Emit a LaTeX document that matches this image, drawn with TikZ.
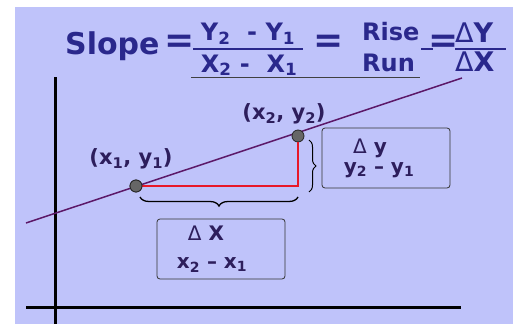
\documentclass[tikz,border=0pt]{standalone}
\usepackage{fontspec}
\setmainfont{DejaVu Sans}
\usepackage{xcolor}
\usetikzlibrary{decorations.pathreplacing}
\definecolor{slopebg}{RGB}{191,195,250}
\definecolor{slopeink}{RGB}{42,40,140}
\definecolor{labelink}{RGB}{45,30,92}
\definecolor{lineink}{RGB}{92,24,104}
\definecolor{runink}{RGB}{232,24,40}
\newcommand{\lowidx}[1]{\textsubscript{#1}}
\tikzset{
  titletext/.style={text=slopeink,font=\bfseries\fontsize{24}{28}\selectfont,inner sep=0pt},
  bigtitle/.style={titletext,font=\bfseries\fontsize{30}{34}\selectfont},
  eqsign/.style={titletext,anchor=center,font=\bfseries\fontsize{36}{40}\selectfont},
  pointlabel/.style={text=labelink,font=\bfseries\fontsize{21}{24}\selectfont,inner sep=0pt},
  boxtext/.style={text=labelink,font=\bfseries\fontsize{20}{24}\selectfont,inner sep=0pt},
  deltabox/.style={draw=black!80,line width=0.8pt,rounded corners=3pt,minimum width=128pt,minimum height=60pt},
  dot/.style={circle,draw=black!85,fill=black!60,line width=0.8pt,inner sep=0pt,minimum size=12pt},
  axis/.style={line width=3pt,black}
}
\begin{document}
\begin{tikzpicture}[x=1pt,y=-1pt]
  \useasboundingbox (0,0) rectangle (520,324);
  \fill[slopebg] (15,7) rectangle (513,324);

  \node[bigtitle,anchor=base west] (slope) at (65,54) {Slope};
  \node[eqsign] (eqa) at (180,44) {=};
  \node[titletext,anchor=base] (ynum) at (248,41) {Y\lowidx{2}~ - Y\lowidx{1}};
  \node[titletext,anchor=base] (xden) at (249,72) {X\lowidx{2} - ~X\lowidx{1}};
  \draw[slopeink,line width=1.5pt] (193,49) -- (303,49);
  \node[eqsign] (eqb) at (329,44) {=};
  \node[titletext,anchor=base west] (rise) at (362,40) {Rise};
  \node[titletext,anchor=base west] (run) at (362,71) {Run};
  \draw[slopeink,line width=1.5pt] (421,49) -- (433,49);
  \node[eqsign] (eqc) at (444,44) {=};
  \node[titletext,anchor=base west,font=\bfseries\fontsize{27}{30}\selectfont] (dyt) at (455,42) {{\mdseries Δ}Y};
  \node[titletext,anchor=base west,font=\bfseries\fontsize{27}{30}\selectfont] (dxt) at (455,71) {{\mdseries Δ}X};
  \draw[slopeink,line width=1.5pt] (455,49) -- (506,49);
  \draw[black!75,line width=0.8pt] (191,77) -- (420,77);

  \coordinate (ytop) at (55,77);
  \coordinate (ybot) at (55,324);
  \coordinate (xleft) at (26,307);
  \coordinate (xright) at (461,307);
  \draw[axis] (ytop) -- (ybot);
  \draw[axis] (xleft) -- (xright);

  \coordinate (la) at (26,223);
  \coordinate (lb) at (462,78);
  \draw[lineink,line width=1.5pt] (la) -- (lb);

  \coordinate (corner) at (298,186);
  \node[dot] (p1) at (136,186) {};
  \node[dot] (p2) at (298,136) {};
  \draw[runink,line width=2pt] (p1.center) -- (corner) -- (p2.south);
  \node[dot] at (136,186) {};

  \node[pointlabel] (l1) at (131,159) {(x\lowidx{1}, y\lowidx{1})};
  \node[pointlabel] (l2) at (284,114) {(x\lowidx{2}, y\lowidx{2})};

  \draw[black,line width=1pt,decorate,decoration={brace,amplitude=7pt}] (309,140) -- (309,192);
  \draw[black,line width=1.3pt,decorate,decoration={brace,amplitude=9pt}] (298,197) -- (140,197);

  \node[deltabox] (dybox) at (386,158) {};
  \node[boxtext] (dy) at (370,148) {{\mdseries Δ} y};
  \node[boxtext] (dyexpr) at (379,170) {y\lowidx{2} – y\lowidx{1}};

  \node[deltabox] (dxbox) at (221,249) {};
  \node[boxtext] (dx) at (206,233) {{\mdseries Δ} X};
  \node[boxtext] (dxexpr) at (212,265) {x\lowidx{2} – x\lowidx{1}};
\end{tikzpicture}
\end{document}
